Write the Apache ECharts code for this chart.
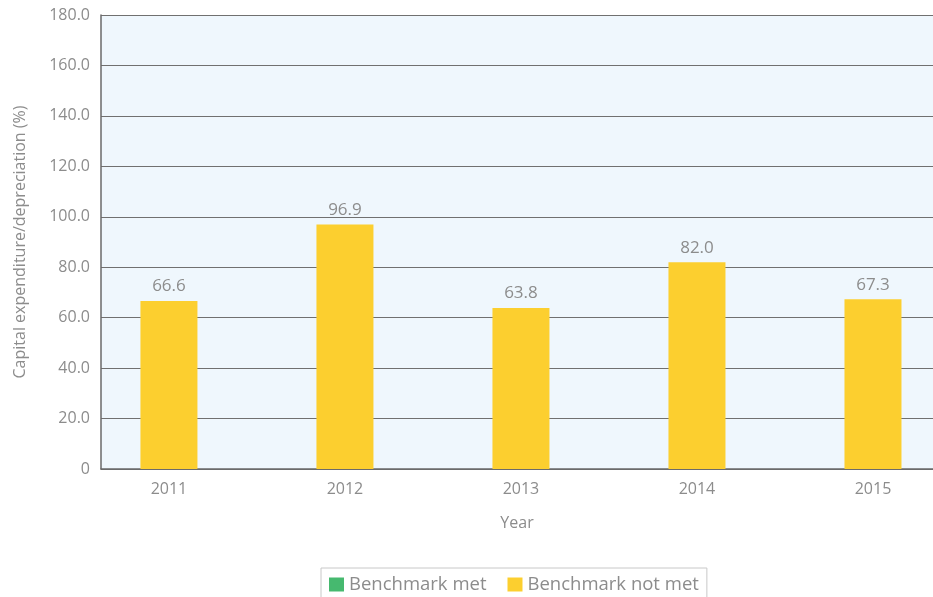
<!DOCTYPE html>
<html>
<head>
<meta charset="utf-8">
<script src="https://cdn.jsdelivr.net/npm/echarts@6/dist/echarts.min.js"></script>
<style>
  html, body { margin: 0; padding: 0; background: #fff; }
  #chart { width: 933px; height: 597px; }
</style>
</head>
<body>
<div id="chart"></div>
<script>
// Capital expenditure as a share of depreciation, by year
const years = [2011, 2012, 2013, 2014, 2015];
const notMetValues = [66.6, 96.9, 63.8, 82.0, 67.3];
const metValues = [];
const yTicks = [0, 20, 40, 60, 80, 100, 120, 140, 160, 180];

const labelGray = '#8c8c8c';
const fontFamily = '"Open Sans", "Liberation Sans", Arial, sans-serif';

const chart = echarts.init(document.getElementById('chart'), null, { renderer: 'canvas' });

chart.setOption({
  animation: false,
  textStyle: { fontFamily: fontFamily },
  grid: {
    left: 101, right: 0, top: 15, bottom: 128,
    show: true, backgroundColor: '#eff7fd', borderWidth: 0
  },
  xAxis: {
    type: 'value',
    min: 2010.614,
    max: 2015.341,
    name: 'Year',
    nameLocation: 'middle',
    nameGap: 46,
    nameTextStyle: { color: labelGray, fontSize: 16, fontFamily: fontFamily },
    axisLine: { show: true, lineStyle: { color: '#6a6a6a', width: 1.5 } },
    axisTick: { show: false },
    splitLine: { show: false },
    axisLabel: {
      customValues: years,
      formatter: v => String(Math.round(v)),
      color: labelGray, fontSize: 16, margin: 12, fontFamily: fontFamily
    }
  },
  yAxis: {
    type: 'value',
    min: 0, max: 180, interval: 20,
    name: 'Capital expenditure/depreciation (%)',
    nameLocation: 'middle',
    nameGap: 73,
    nameTextStyle: { color: labelGray, fontSize: 16, fontFamily: fontFamily },
    axisLine: { show: true, lineStyle: { color: '#6a6a6a', width: 1.5 } },
    axisTick: { show: false },
    splitLine: { show: true, lineStyle: { color: '#707070', width: 1 } },
    axisLabel: {
      color: labelGray, fontSize: 16, margin: 11, fontFamily: fontFamily,
      formatter: v => (yTicks.indexOf(v) >= 0 && v !== 0) ? v.toFixed(1) : '0'
    }
  },
  legend: {
    left: 321, top: 568,
    padding: [7, 8, 14, 8],
    borderColor: '#c8c8c8', borderWidth: 1,
    itemWidth: 15, itemHeight: 14, itemGap: 21,
    icon: 'rect',
    textStyle: { color: labelGray, fontSize: 18.5, fontFamily: fontFamily },
    data: ['Benchmark met', 'Benchmark not met']
  },
  series: [
    {
      name: 'Benchmark met',
      type: 'bar',
      barWidth: 57,
      barGap: '-100%',
      itemStyle: { color: '#46b96f' },
      data: metValues
    },
    {
      name: 'Benchmark not met',
      type: 'bar',
      barWidth: 57,
      barGap: '-100%',
      itemStyle: { color: '#fccf2f' },
      label: {
        show: true, position: 'top', distance: 6,
        color: labelGray, fontSize: 17, fontFamily: fontFamily,
        formatter: p => p.value[1].toFixed(1)
      },
      data: years.map((y, i) => [y, notMetValues[i]])
    }
  ]
});
</script>
</body>
</html>
